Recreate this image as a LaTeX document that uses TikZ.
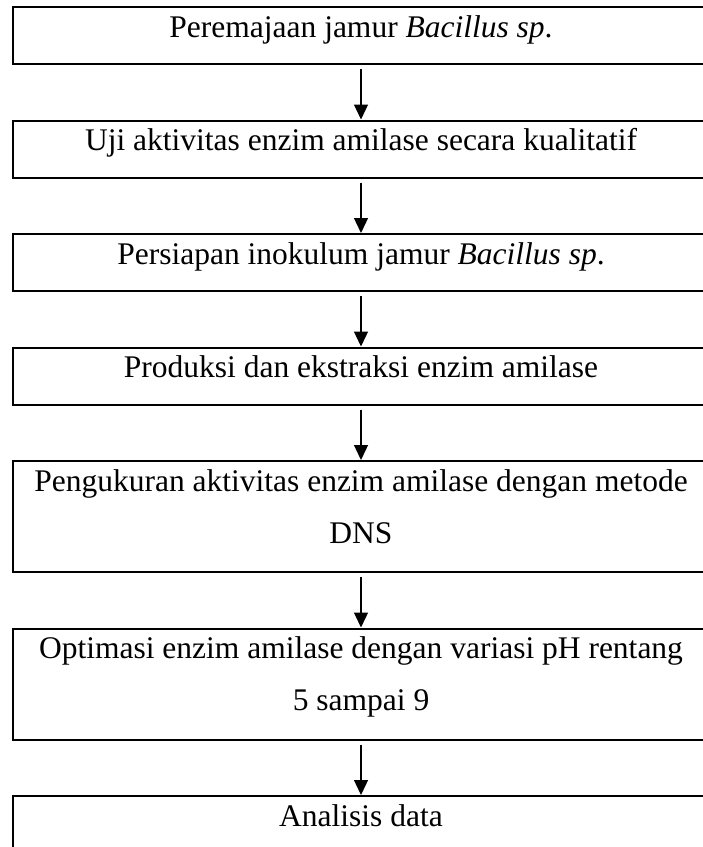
\documentclass[tikz,border=0pt]{standalone}
\usepackage{fontspec}
\setmainfont{Liberation Serif}
\usepackage{tikz}
\usetikzlibrary{arrows.meta,positioning}

\begin{document}
\begin{tikzpicture}[node distance=56.5pt,
    box/.style={draw, line width=2pt, minimum width=696pt, inner xsep=0pt, inner ysep=0pt, outer sep=0pt,
        font=\fontsize{31.5pt}{52pt}\selectfont, align=center, text height=30pt, text depth=27pt},
    twoline/.style={text height=82pt, text depth=29pt},
    >={Triangle[width=14pt,length=15pt]}]
           \useasboundingbox (0,0) rectangle (703pt,-847pt);
           \clip (0,0) rectangle (703pt,-847pt);
           \node[box, anchor=north] (s_1) at (361pt,-7pt) {Peremajaan jamur \textit{Bacillus sp}.};
           \node[box] (s_2) [below=of s_1] {Uji aktivitas enzim amilase secara kualitatif};
           \node[box] (s_3) [below=of s_2] {Persiapan inokulum jamur \textit{Bacillus sp}.};
           \node[box] (s_4) [below=of s_3] {Produksi dan ekstraksi enzim amilase};
           \node[box, twoline] (s_5) [below=of s_4] {Pengukuran aktivitas enzim amilase dengan metode\\DNS};
           \node[box, twoline] (s_6) [below=of s_5] {Optimasi enzim amilase dengan variasi pH rentang\\5 sampai 9};
           \node[box] (s_7) [below=of s_6] {Analisis data};
           \path[->, line width=1.3pt, shorten <=5pt, shorten >=1pt]
            (s_1) edge (s_2)
            (s_2) edge (s_3)
            (s_3) edge (s_4)
            (s_4) edge (s_5)
            (s_5) edge (s_6)
            (s_6) edge (s_7);
        \end{tikzpicture}
\end{document}
